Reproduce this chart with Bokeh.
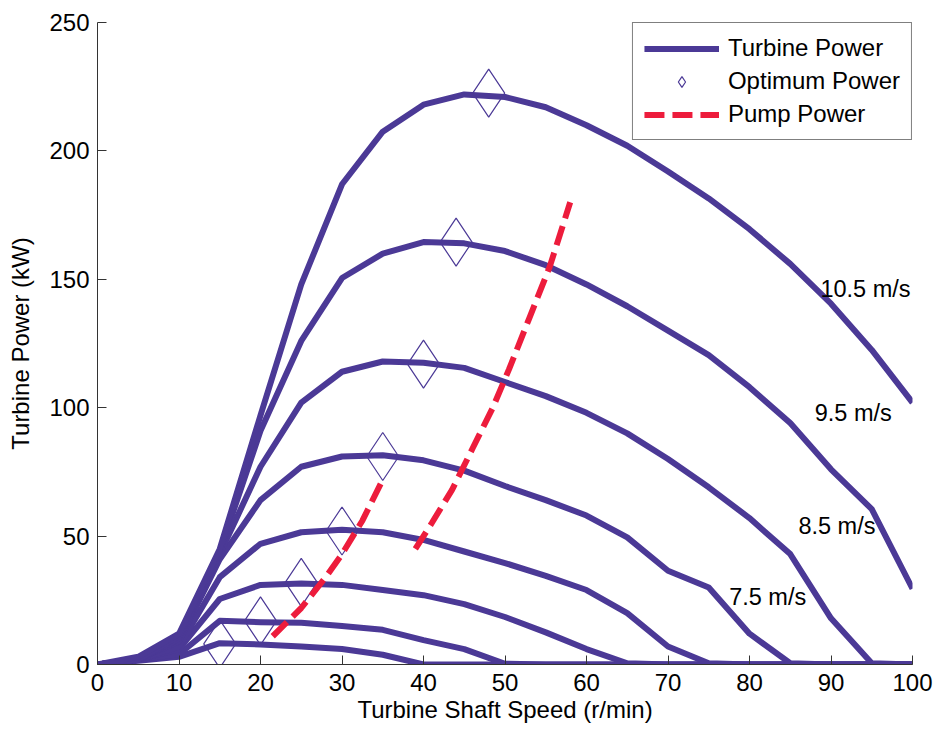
from bokeh.plotting import figure
from bokeh.models import Range1d, FixedTicker, Legend, LegendItem, Label
from bokeh.embed import file_html
from bokeh.resources import INLINE

# ---------------- data ----------------
shaft_speed = [0, 5, 10, 15, 20, 25, 30, 35, 40, 45, 50, 55, 60, 65, 70, 75, 80, 85, 90, 95, 100]

power_10_5 = [0, 3, 12, 45, 97, 148, 187, 207.5, 218, 222, 221, 217, 210, 202, 192, 181.5, 169.5, 156, 140.5, 122.5, 102]
power_9_5 = [0, 2, 11, 44, 91, 126, 150.5, 160, 164.5, 164, 161, 155.5, 148, 139.5, 130, 120.5, 108, 94, 76, 60.5, 29.5]
power_8_5 = [0, 2, 10, 43, 77, 102, 114, 118, 117.5, 115.5, 110, 104.5, 98, 90, 80, 69, 57, 43, 18, 0.5, 0]
power_7_5 = [0, 2, 9, 41, 64, 77, 81, 81.5, 79.5, 75.5, 69.5, 64, 58, 49.5, 36.5, 30, 12, 0.5, 0, 0, 0]
power_6_5 = [0, 2, 7, 34, 47, 51.5, 52.5, 51.5, 48.5, 44, 39.5, 34.5, 29, 20, 7, 0.5, 0, 0, 0, 0, 0]
power_5_5 = [0, 2, 6, 25.5, 31, 31.5, 31, 29, 27, 23.5, 18.5, 12.5, 6, 0.5, 0, 0, 0, 0, 0, 0, 0]
power_4_5 = [0, 2, 4, 17, 16.5, 16.3, 15, 13.5, 9.5, 6, 0.3, 0, 0, 0, 0, 0, 0, 0, 0, 0, 0]
power_3_5 = [0, 1.5, 3, 8.3, 7.8, 7, 6, 3.8, 0, 0, 0, 0, 0, 0, 0, 0, 0, 0, 0, 0, 0]

turbine_curves = [power_3_5, power_4_5, power_5_5, power_6_5, power_7_5, power_8_5, power_9_5, power_10_5]

optimum_speed = [15, 20, 25, 30, 35, 40, 44, 48]
optimum_power = [8, 17, 32, 52, 81, 117, 164.5, 222.5]

pump_low_speed = [21.5, 25, 28, 30, 32.5, 35]
pump_low_power = [11, 22, 34, 43, 56, 72]
pump_high_speed = [39, 41, 43.5, 46, 48.5, 50.5, 53, 55.5, 58]
pump_high_power = [45, 55, 68, 84, 100, 115, 135, 155, 180]

wind_labels = ["10.5 m/s", "9.5 m/s", "8.5 m/s", "7.5 m/s"]

x_ticks = [0, 10, 20, 30, 40, 50, 60, 70, 80, 90, 100]
y_ticks = [0, 50, 100, 150, 200, 250]

# ---------------- styling ----------------
PURPLE = "#4B3996"
RED = "#ED1C3C"
FONT = "Liberation Sans"
FS = "24px"

p = figure(width=936, height=731,
           x_range=Range1d(0, 100), y_range=Range1d(0, 250),
           output_backend="svg", toolbar_location=None,
           min_border_left=97, min_border_right=24,
           min_border_top=22, min_border_bottom=67)
p.outline_line_color = None
p.grid.grid_line_color = None
p.background_fill_color = "white"
p.border_fill_color = "white"

turb_renderers = []
for curve in turbine_curves:
    r = p.line(shaft_speed, curve, line_color=PURPLE, line_width=6, line_join="round")
    turb_renderers.append(r)

r_opt = p.scatter(optimum_speed, optimum_power, marker="diamond", size=48,
                  fill_color=None, line_color=PURPLE, line_width=1.2)

r_pump = p.line(pump_low_speed, pump_low_power, line_color=RED, line_width=6,
                line_dash="20 8", line_cap="butt")
p.line(pump_high_speed, pump_high_power, line_color=RED, line_width=6,
       line_dash="20 8", line_cap="butt")

# wind speed annotations
label_pos = [(88.7, 146.4), (88.0, 98.0), (86.0, 53.9), (77.5, 26.3)]
for txt, (lx, ly) in zip(wind_labels, label_pos):
    p.add_layout(Label(x=lx, y=ly, text=txt, text_font=FONT, text_font_size="23.5px",
                       text_color="black", text_baseline="middle", text_align="left"))

# axes
for ax in (p.xaxis, p.yaxis):
    ax.major_tick_in = 9
    ax.major_tick_out = 0
    ax.minor_tick_line_color = None
    ax.axis_line_color = "#333333"
    ax.major_tick_line_color = "#333333"
    ax.major_label_text_font = FONT
    ax.major_label_text_font_size = FS
    ax.major_label_text_color = "black"
    ax.axis_label_text_font = FONT
    ax.axis_label_text_font_size = FS
    ax.axis_label_text_font_style = "normal"
    ax.axis_label_text_color = "black"

p.xaxis.ticker = FixedTicker(ticks=x_ticks)
p.yaxis.ticker = FixedTicker(ticks=y_ticks)
p.xaxis.axis_label = "Turbine Shaft Speed (r/min)"
p.yaxis.axis_label = "Turbine Power (kW)"
p.xaxis.major_label_standoff = 9
p.xaxis.axis_label_standoff = 2
p.yaxis.major_label_standoff = 8
p.yaxis.axis_label_standoff = 12

legend = Legend(items=[
    LegendItem(label="Turbine Power", renderers=[turb_renderers[-1]]),
    LegendItem(label="Optimum Power", renderers=[r_opt]),
    LegendItem(label="Pump Power", renderers=[r_pump]),
], location="top_right", margin=0, padding=11, spacing=5,
    glyph_width=75, glyph_height=27, label_height=27, label_standoff=9,
    border_line_color="black", border_line_width=1,
    label_text_font=FONT, label_text_font_size=FS, label_text_color="black",
    background_fill_color="white", background_fill_alpha=1)
p.add_layout(legend)

open("out.html", "w").write(file_html(p, INLINE))
